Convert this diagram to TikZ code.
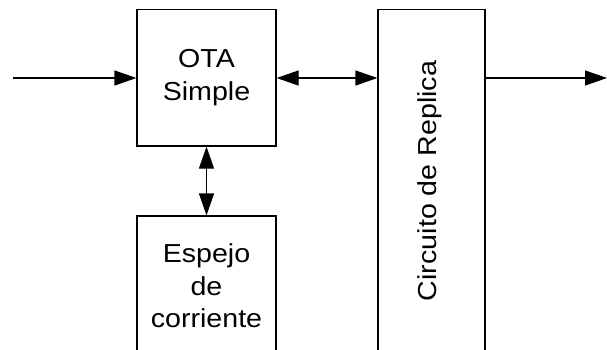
\documentclass[tikz,border=0pt]{standalone}
\usepackage{fontspec}
\setmainfont{Liberation Sans}[FakeStretch=1.1]
\usetikzlibrary{arrows.meta}
\begin{document}
\begin{tikzpicture}[x=1pt,y=-1pt,
  blk/.style={draw=black,line width=1.2pt,rectangle,inner sep=0pt},
  lbl/.style={font=\fontsize{26}{32.5}\selectfont,align=center,inner sep=0pt},
  tip/.tip={Triangle[length=22pt,width=15pt]},
  conn/.style={line width=1.2pt,-tip},
  bconn/.style={line width=1.2pt,tip-tip}]
\useasboundingbox (0,0) rectangle (607,349);
\clip (0,0) rectangle (607,349);
% blocks
\node[blk,minimum width=139pt,minimum height=136.5pt,lbl] (ota) at (206.5,77.75) {OTA\\Simple};
\node[blk,minimum width=139pt,minimum height=160pt] (esp) at (206.5,296) {};
\node[lbl] (esptxt) at (206.5,286) {Espejo\\de\\corriente};
\node[blk,minimum width=107pt,minimum height=360pt] (rep) at (431.5,189.5) {};
\node[lbl,rotate=90] (reptxt) at (430,181) {Circuito de Replica};
% connectors
\coordinate (in) at (13,78);
\coordinate (out) at (607,78);
\draw[conn] (in) -- (in -| ota.west);
\draw[bconn] (ota.east |- in) -- (rep.west |- in);
\draw[conn] (rep.east |- in) -- (out);
\draw[bconn] (ota.south) -- (esp.north);
\end{tikzpicture}
\end{document}
